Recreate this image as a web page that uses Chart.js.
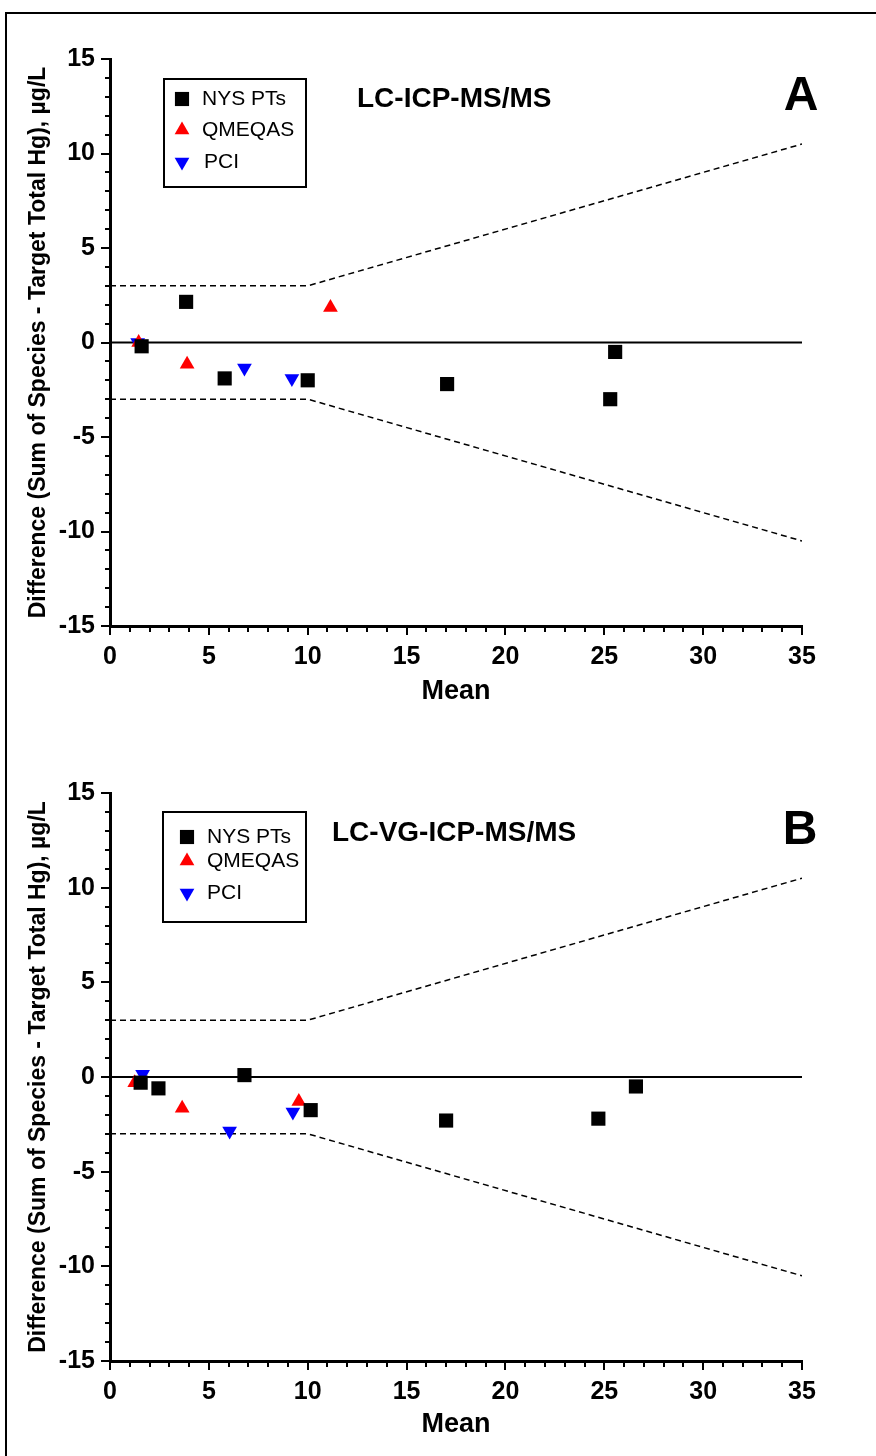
<!DOCTYPE html>
<html>
<head>
<meta charset="utf-8">
<script src="https://cdn.jsdelivr.net/npm/chart.js@4/dist/chart.umd.min.js"></script>
<style>
	html, body { margin: 0; padding: 0; background: #fff; overflow: hidden; }
	#page { position: relative; width: 876px; height: 1456px; }
	#frame { position: absolute; left: 5px; top: 12px; width: 1000px; height: 1600px; border-left: 2px solid #000; border-top: 2px solid #000; }
	canvas { position: absolute; left: 0; }
</style>
</head>
<body>
<div id="page">
	<div id="frame"></div>
	<canvas id="chartA" width="876" height="728" style="top:0"></canvas>
	<canvas id="chartB" width="876" height="728" style="top:728px"></canvas>
</div>
<script>
// panel A - LC-ICP-MS/MS
var nysA_x = [1.6, 3.85, 5.8, 10.0, 17.05, 25.3, 25.55];
var nysA_y = [-0.2, 2.15, -1.9, -2.0, -2.2, -3.0, -0.5];
var qmeA_x = [1.45, 3.9, 11.15];
var qmeA_y = [0.0, -1.15, 1.85];
var pciA_x = [1.4, 6.8, 9.2];
var pciA_y = [0.0, -1.35, -1.9];

// panel B - LC-VG-ICP-MS/MS
var nysB_x = [1.55, 2.45, 6.8, 10.15, 17.0, 24.7, 26.6];
var nysB_y = [-0.3, -0.6, 0.1, -1.75, -2.3, -2.2, -0.5];
var qmeB_x = [1.25, 3.65, 9.55];
var qmeB_y = [-0.3, -1.65, -1.3];
var pciB_x = [1.65, 6.05, 9.25];
var pciB_y = [0.15, -2.85, -1.85];

// acceptance limits (+/- 3 or 30%) and zero line
var limX = [0, 10, 35];
var limUp = [3, 3, 10.5];
var limLo = [-3, -3, -10.5];
var zeroX = [0, 35];
var zeroY = [0, 0];

var seriesLabels = ['NYS PTs', 'QMEQAS', 'PCI'];
var xTicks = [0, 5, 10, 15, 20, 25, 30, 35];
var yTicks = [-15, -10, -5, 0, 5, 10, 15];

var FONT = '"Liberation Sans", Arial, Helvetica, sans-serif';

function toPts(xs, ys) {
	var pts = [];
	for (var i = 0; i < xs.length; i++) {
		pts.push({x: xs[i], y: ys[i]});
	}
	return pts;
}

// minor ticks every 1, major every 5, drawn outward
var tickMarks = {
	id: 'tickMarks',
	afterDraw: function(chart) {
		var ctx = chart.ctx, ca = chart.chartArea;
		var xs = chart.scales.x, ys = chart.scales.y;
		ctx.save();
		ctx.strokeStyle = '#000';
		ctx.lineWidth = 2;
		ctx.beginPath();
		for (var v = xs.min; v <= xs.max; v++) {
			var px = Math.round(xs.getPixelForValue(v));
			var len = v % 5 === 0 ? 9 : 6;
			ctx.moveTo(px, ca.bottom);
			ctx.lineTo(px, ca.bottom + len);
		}
		for (var w = ys.min; w <= ys.max; w++) {
			var py = Math.round(ys.getPixelForValue(w));
			var len2 = w % 5 === 0 ? 9 : 5;
			ctx.moveTo(ca.left, py);
			ctx.lineTo(ca.left - len2, py);
		}
		ctx.stroke();
		ctx.restore();
	}
};

// boxed legend, title and panel letter
var panelText = {
	id: 'panelText',
	afterDraw: function(chart) {
		var o = chart.options.plugins.panelText;
		var ctx = chart.ctx;
		ctx.save();
		ctx.fillStyle = '#000';
		ctx.textBaseline = 'middle';
		ctx.textAlign = 'left';
		ctx.font = 'bold 28px ' + FONT;
		ctx.fillText(o.title, o.titleX, o.titleY);
		ctx.textAlign = 'center';
		ctx.font = 'bold 48px ' + FONT;
		ctx.fillText(o.letter, o.letterX, o.letterY);

		ctx.lineWidth = 2;
		ctx.strokeStyle = '#000';
		ctx.strokeRect(o.box[0], o.box[1], o.box[2], o.box[3]);
		ctx.font = '21px ' + FONT;
		ctx.textAlign = 'left';
		var ds = chart.data.datasets;
		var row = 0;
		for (var i = 0; i < ds.length; i++) {
			if (!ds[i].legend) continue;
			var y = o.rows[row];
			ctx.fillStyle = ds[i].backgroundColor;
			Chart.helpers.drawPoint(ctx, {
				pointStyle: ds[i].pointStyle,
				radius: ds[i].pointRadius,
				rotation: ds[i].rotation || 0,
				borderWidth: 0
			}, o.markX, y);
			ctx.fillStyle = '#000';
			ctx.fillText(ds[i].label, o.textX[row], y);
			row++;
		}
		ctx.restore();
	}
};

function makeChart(canvasId, d, lay) {
	var datasets = [
		{label: seriesLabels[0], legend: true, data: toPts(d.nysX, d.nysY), pointStyle: 'rect', pointRadius: 10, backgroundColor: '#000', borderWidth: 0},
		{label: seriesLabels[1], legend: true, data: toPts(d.qmeX, d.qmeY), pointStyle: 'triangle', pointRadius: 8.5, backgroundColor: '#ff0000', borderWidth: 0},
		{label: seriesLabels[2], legend: true, data: toPts(d.pciX, d.pciY), pointStyle: 'triangle', rotation: 180, pointRadius: 8.5, backgroundColor: '#0000ff', borderWidth: 0},
		{data: toPts(zeroX, zeroY), showLine: true, pointRadius: 0, borderColor: '#000', borderWidth: 2},
		{data: toPts(limX, limUp), showLine: true, pointRadius: 0, borderColor: '#000', borderWidth: 1.5, borderDash: [6, 4]},
		{data: toPts(limX, limLo), showLine: true, pointRadius: 0, borderColor: '#000', borderWidth: 1.5, borderDash: [6, 4]}
	];

	return new Chart(document.getElementById(canvasId), {
		type: 'scatter',
		data: {datasets: datasets},
		options: {
			responsive: false,
			animation: false,
			devicePixelRatio: 1,
			layout: {padding: {top: lay.top, right: 74, left: 0, bottom: 0}},
			plugins: {
				legend: {display: false},
				tooltip: {enabled: false},
				panelText: lay.text
			},
			scales: {
				x: {
					type: 'linear', min: 0, max: 35,
					afterBuildTicks: function(s) { s.ticks = xTicks.map(function(v) { return {value: v}; }); },
					afterFit: function(s) { s.height = lay.xHeight; },
					grid: {display: false},
					border: {display: true, color: '#000', width: 3},
					ticks: {color: '#000', padding: 8, font: {family: FONT, size: 25, weight: 'bold'}},
					title: {display: true, text: 'Mean', color: '#000', padding: {top: 0, bottom: lay.meanPad}, font: {family: FONT, size: 27, weight: 'bold'}}
				},
				y: {
					type: 'linear', min: -15, max: 15,
					afterBuildTicks: function(s) { s.ticks = yTicks.map(function(v) { return {value: v}; }); },
					afterFit: function(s) { s.width = 110; },
					grid: {display: false},
					border: {display: true, color: '#000', width: 3},
					ticks: {color: '#000', padding: 7, font: {family: FONT, size: 25, weight: 'bold'}},
					title: {display: true, text: 'Difference (Sum of Species - Target Total Hg), µg/L', color: '#000', padding: {top: 25, bottom: 0}, font: {family: FONT, size: 23, weight: 'bold'}}
				}
			}
		},
		plugins: [tickMarks, panelText]
	});
}

makeChart('chartA',
	{nysX: nysA_x, nysY: nysA_y, qmeX: qmeA_x, qmeY: qmeA_y, pciX: pciA_x, pciY: pciA_y},
	{top: 59, xHeight: 102, meanPad: 20,
		text: {title: 'LC-ICP-MS/MS', titleX: 357, titleY: 99, letter: 'A', letterX: 801, letterY: 97,
			box: [164, 79, 142, 108], rows: [99, 130, 162], markX: 182, textX: [202, 202, 204]}});

makeChart('chartB',
	{nysX: nysB_x, nysY: nysB_y, qmeX: qmeB_x, qmeY: qmeB_y, pciX: pciB_x, pciY: pciB_y},
	{top: 65, xHeight: 95, meanPad: 15,
		text: {title: 'LC-VG-ICP-MS/MS', titleX: 332, titleY: 105, letter: 'B', letterX: 800, letterY: 103,
			box: [163, 84, 143, 110], rows: [109, 133, 165], markX: 187, textX: [207, 207, 207]}});
</script>
</body>
</html>
